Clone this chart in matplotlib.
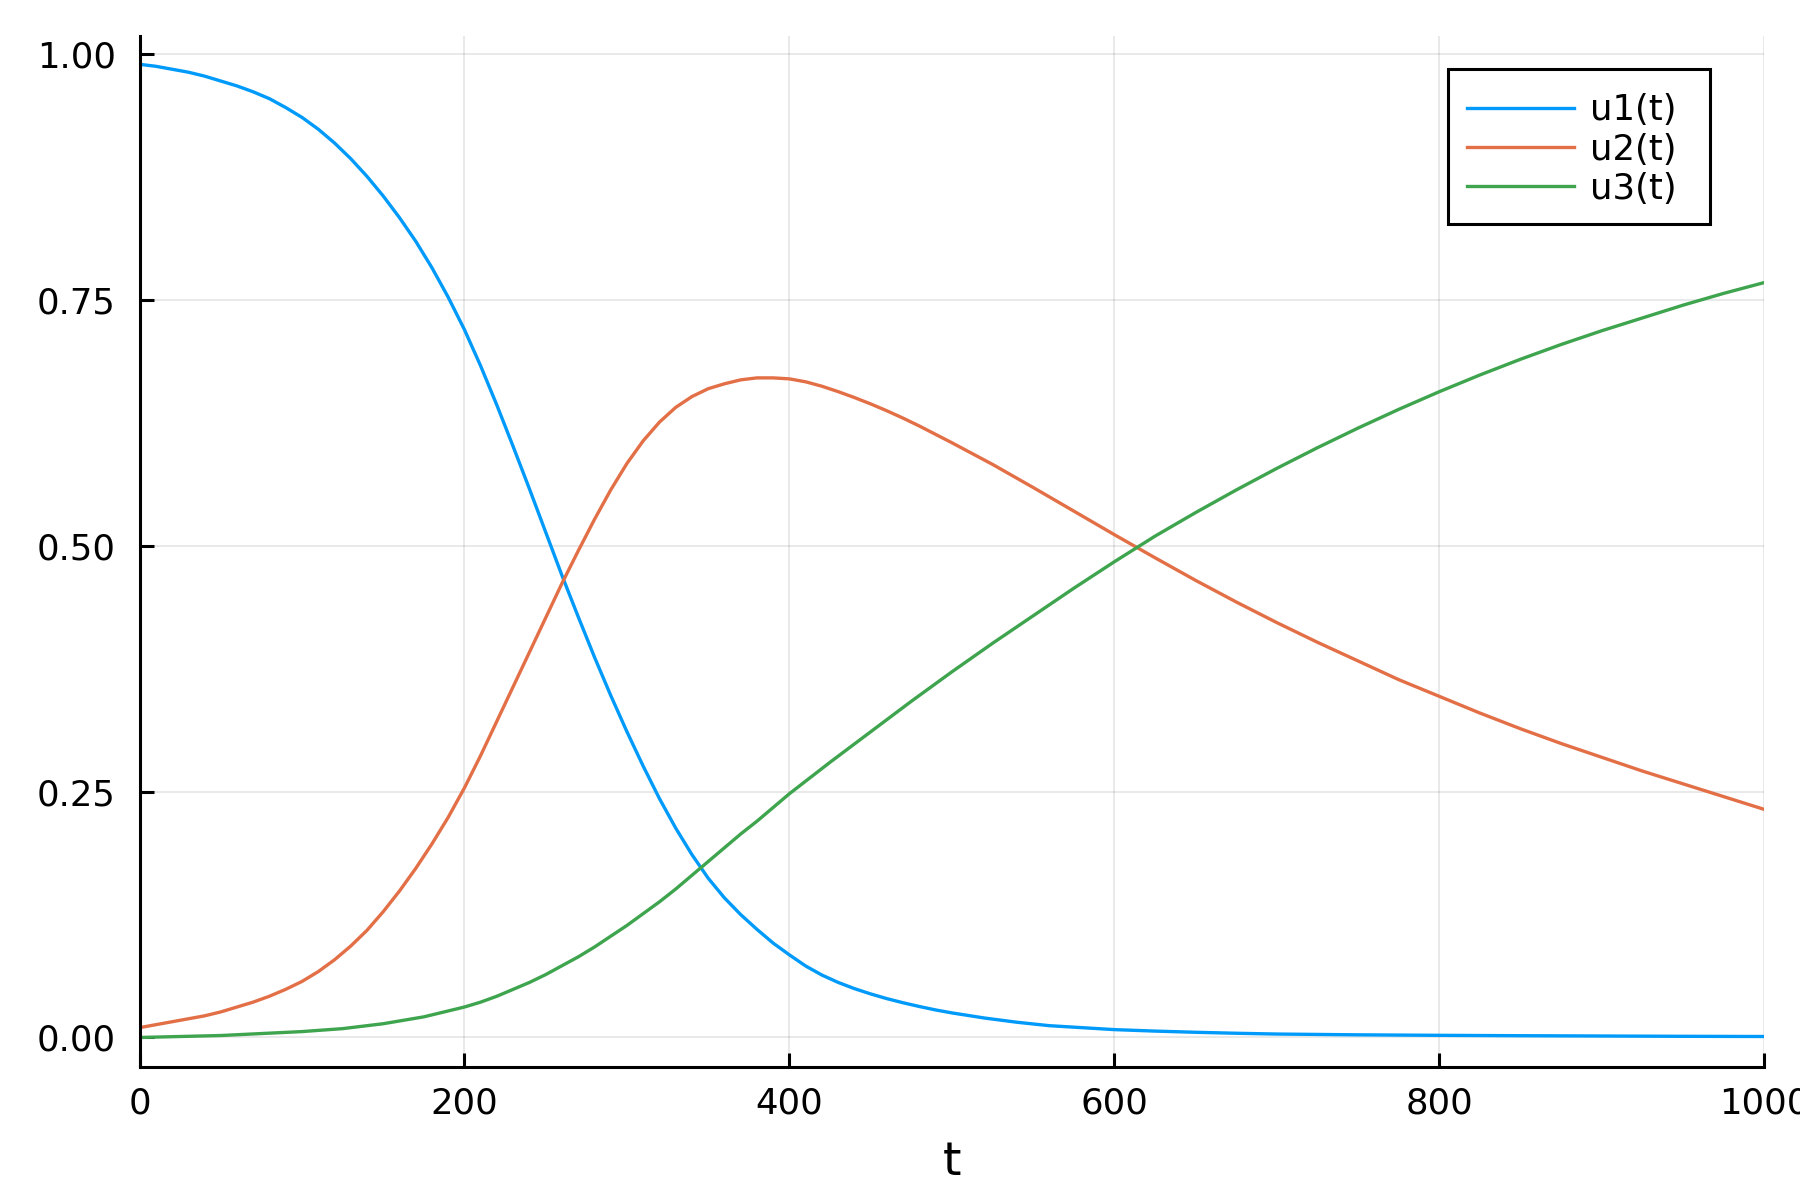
import matplotlib
matplotlib.use("Agg")
import matplotlib.pyplot as plt
from matplotlib.patches import Rectangle

# values
t1 = [0, 10, 20, 30, 40, 50, 60, 70, 80, 90, 100, 110, 120, 130, 140, 150, 160,
      170, 180, 190, 200, 210, 220, 230, 240, 250, 260, 270, 280, 290, 300, 310,
      320, 330, 340, 350, 360, 370, 380, 390, 400, 410, 420, 430, 440, 450, 460,
      470, 480, 490, 500, 520, 540, 560, 580, 600, 625, 650, 675, 700, 750, 800,
      850, 900, 950, 1000]
u1 = [0.990, 0.988, 0.985, 0.982, 0.978, 0.973, 0.968, 0.962, 0.955, 0.946,
      0.936, 0.924, 0.910, 0.894, 0.876, 0.856, 0.834, 0.810, 0.783, 0.753,
      0.720, 0.683, 0.643, 0.601, 0.558, 0.514, 0.470, 0.428, 0.387, 0.348,
      0.311, 0.276, 0.243, 0.213, 0.186, 0.162, 0.142, 0.125, 0.110, 0.096,
      0.084, 0.0727, 0.0635, 0.056, 0.0497, 0.0443, 0.0395, 0.0353, 0.0315,
      0.028, 0.025, 0.0198, 0.0155, 0.012, 0.010, 0.008, 0.0065, 0.0053,
      0.0043, 0.0035, 0.0027, 0.0022, 0.0018, 0.0015, 0.0012, 0.001]

t2 = [0, 10, 20, 30, 40, 50, 60, 70, 80, 90, 100, 110, 120, 130, 140, 150, 160,
      170, 180, 190, 200, 210, 220, 230, 240, 250, 260, 270, 280, 290, 300, 310,
      320, 330, 340, 350, 360, 370, 380, 390, 400, 410, 420, 430, 440, 450, 460,
      470, 480, 490, 500, 525, 550, 575, 600, 625, 650, 675, 700, 725, 750, 775,
      800, 825, 850, 875, 900, 925, 950, 975, 1000]
u2 = [0.010, 0.013, 0.016, 0.019, 0.022, 0.026, 0.031, 0.036, 0.042, 0.049,
      0.057, 0.067, 0.079, 0.093, 0.109, 0.128, 0.149, 0.172, 0.197, 0.224,
      0.254, 0.287, 0.322, 0.357, 0.392, 0.427, 0.462, 0.495, 0.527, 0.557,
      0.584, 0.607, 0.626, 0.641, 0.652, 0.660, 0.665, 0.669, 0.671, 0.671,
      0.670, 0.667, 0.6625, 0.657, 0.651, 0.6445, 0.6375, 0.630, 0.622, 0.6135,
      0.605, 0.583, 0.5595, 0.5355, 0.5115, 0.488, 0.465, 0.443, 0.422, 0.402,
      0.383, 0.364, 0.347, 0.330, 0.314, 0.299, 0.285, 0.271, 0.258, 0.245,
      0.232]

t3 = [0, 25, 50, 75, 100, 125, 150, 175, 200, 210, 220, 230, 240, 250, 260, 270,
      280, 290, 300, 310, 320, 330, 340, 350, 360, 370, 380, 390, 400, 425, 450,
      475, 500, 525, 550, 575, 600, 625, 650, 675, 700, 725, 750, 775, 800, 825,
      850, 875, 900, 925, 950, 975, 1000]
u3 = [0.000, 0.001, 0.002, 0.004, 0.006, 0.009, 0.014, 0.021, 0.031, 0.036,
      0.042, 0.049, 0.056, 0.064, 0.073, 0.082, 0.092, 0.103, 0.114, 0.126,
      0.138, 0.151, 0.165, 0.179, 0.193, 0.207, 0.220, 0.234, 0.248, 0.280,
      0.311, 0.342, 0.372, 0.401, 0.429, 0.457, 0.484, 0.510, 0.534, 0.557,
      0.579, 0.600, 0.620, 0.639, 0.657, 0.674, 0.690, 0.705, 0.719, 0.732,
      0.745, 0.757, 0.768]

labels = ["u1(t)", "u2(t)", "u3(t)"]
colors = ["#009AFA", "#E36F47", "#3EA44E"]

plt.rcParams["font.family"] = "DejaVu Sans"

fig = plt.figure(figsize=(9, 6), dpi=200)
ax = fig.add_axes([0.0775, 0.1111, 0.9027, 0.8589])

for tt, y, lab, c in zip([t1, t2, t3], [u1, u2, u3], labels, colors):
    ax.plot(tt, y, color=c, lw=1.2, label=lab)

ax.set_xlim(0, 1000)
ax.set_ylim(-0.0297, 1.0188)
ax.set_xticks([0, 200, 400, 600, 800, 1000])
ax.set_yticks([0, 0.25, 0.5, 0.75, 1.0])
ax.set_yticklabels(["0.00", "0.25", "0.50", "0.75", "1.00"])
ax.grid(True, color="black", alpha=0.1, lw=0.6)
ax.set_axisbelow(True)

for s in ["top", "right"]:
    ax.spines[s].set_visible(False)
for s in ["left", "bottom"]:
    ax.spines[s].set_linewidth(1.1)

ax.tick_params(axis="both", direction="in", length=5, width=1.1, labelsize=12.8)
ax.tick_params(axis="y", pad=8.5)
ax.tick_params(axis="x", pad=7)

ax.set_xlabel("t", fontsize=17, labelpad=7)

# legend box drawn separately so its padding matches the Plots.jl look
box = Rectangle((0.8052, 0.8176), 0.9665 - 0.8052, 0.968 - 0.8176,
                transform=ax.transAxes, facecolor="white", edgecolor="black",
                lw=1.1, zorder=4)
ax.add_patch(box)
leg = ax.legend(loc="upper left", bbox_to_anchor=(0.8169, 0.9445), borderaxespad=0,
                fontsize=12.8, frameon=False, handlelength=3.0, handletextpad=0.45,
                labelspacing=0.15, borderpad=0)
leg.set_zorder(5)

fig.savefig("out.png", dpi=200)
